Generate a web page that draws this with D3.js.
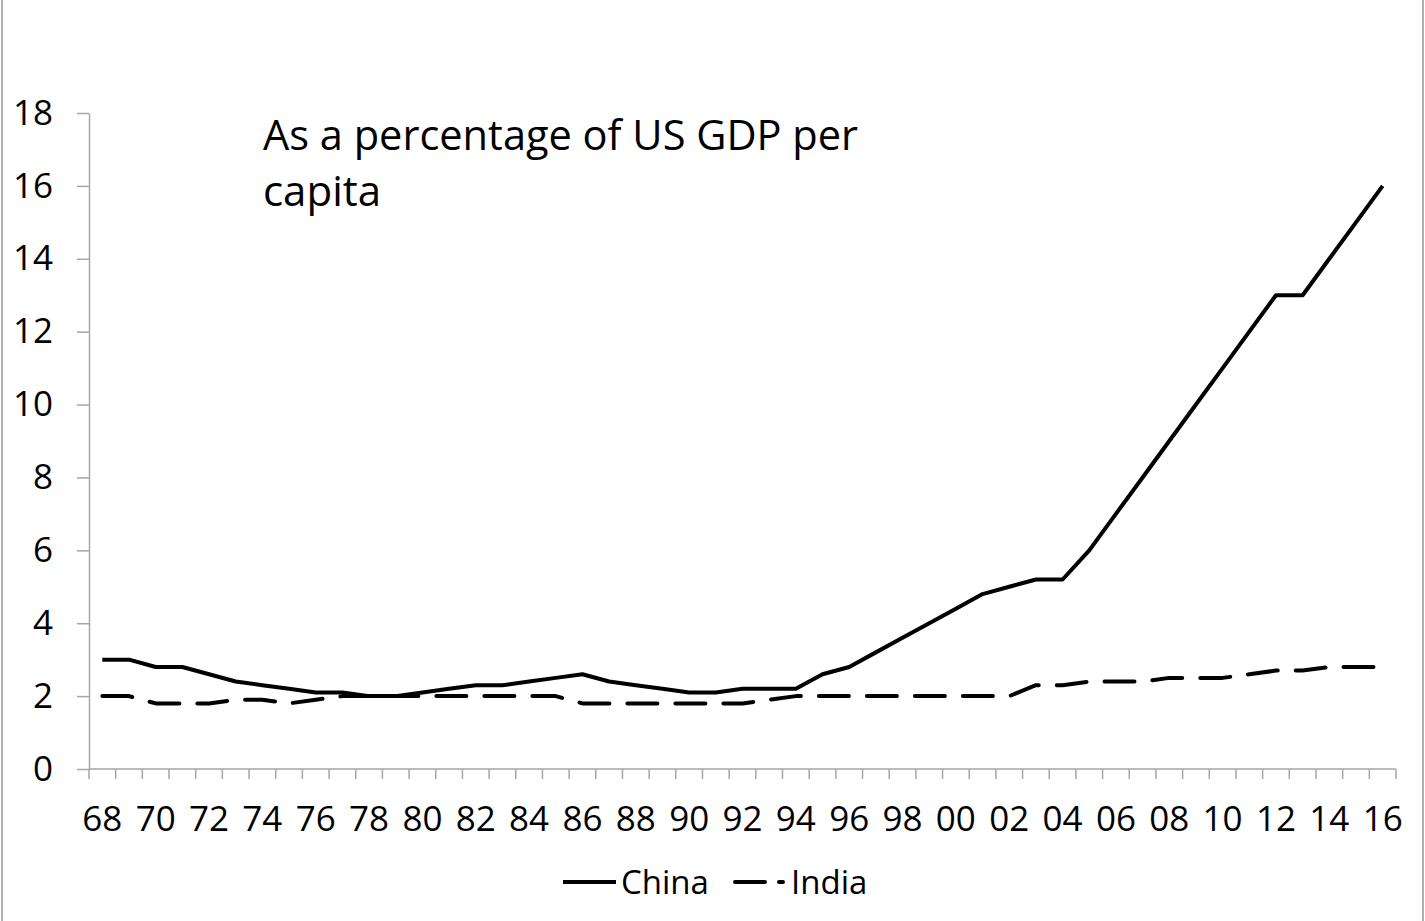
<!DOCTYPE html>
<html>
<head>
<meta charset="utf-8">
<script src="https://cdn.jsdelivr.net/npm/d3@7"></script>
<style>
  html, body { margin: 0; padding: 0; background: #fff; }
  svg { display: block; }
  text { font-family: "Open Sans", "Noto Sans", sans-serif; fill: #000; }
</style>
</head>
<body>
<svg id="chart" width="1425" height="921"></svg>
<script>
// GDP per capita relative to the US (%), 1968–2016
const years = d3.range(1968, 2017);
const china = [
  3.0, 3.0, 2.8, 2.8, 2.6, 2.4, 2.3, 2.2, 2.1, 2.1,
  2.0, 2.0, 2.1, 2.2, 2.3, 2.3, 2.4, 2.5, 2.6, 2.4,
  2.3, 2.2, 2.1, 2.1, 2.2, 2.2, 2.2, 2.6, 2.8, 3.2,
  3.6, 4.0, 4.4, 4.8, 5.0, 5.2, 5.2, 6.0, 7.0, 8.0,
  9.0, 10.0, 11.0, 12.0, 13.0, 13.0, 14.0, 15.0, 16.0
];
const india = [
  2.0, 2.0, 1.8, 1.8, 1.8, 1.9, 1.9, 1.8, 1.9, 2.0,
  2.0, 2.0, 2.0, 2.0, 2.0, 2.0, 2.0, 2.0, 1.8, 1.8,
  1.8, 1.8, 1.8, 1.8, 1.8, 1.9, 2.0, 2.0, 2.0, 2.0,
  2.0, 2.0, 2.0, 2.0, 2.0, 2.3, 2.3, 2.4, 2.4, 2.4,
  2.5, 2.5, 2.5, 2.6, 2.7, 2.7, 2.8, 2.8, 2.8
];
const yTicks = [0, 2, 4, 6, 8, 10, 12, 14, 16, 18];
const seriesNames = ["China", "India"];
const titleLines = ["As a percentage of US GDP per", "capita"];

const svg = d3.select("#chart");
const axisColor = "#a6a6a6";

// outer chart frame
svg.append("rect")
  .attr("x", 2).attr("y", -10)
  .attr("width", 1421).attr("height", 945)
  .attr("fill", "none").attr("stroke", "#b0b0b0").attr("stroke-width", 2);

const x = d3.scaleBand().domain(years).range([89, 1396]).padding(0);
const y = d3.scaleLinear().domain([0, 18]).range([769, 113]);
const cx = d => x(d) + x.bandwidth() / 2;

// y axis
const yAxis = svg.append("g").attr("transform", "translate(89,0)")
  .call(d3.axisLeft(y).tickValues(yTicks).tickSize(12).tickPadding(24).tickSizeOuter(0));
yAxis.select(".domain").attr("stroke", axisColor).attr("stroke-width", 1.5);
yAxis.selectAll(".tick line").attr("stroke", axisColor).attr("stroke-width", 1.5);
yAxis.selectAll(".tick text")
  .style("font-family", "'Open Sans', sans-serif")
  .style("font-size", "35px").attr("fill", "#000");

// x axis: baseline, tick marks at category boundaries, labels every other year
const xAxis = svg.append("g");
xAxis.append("line")
  .attr("x1", 89).attr("x2", 1396).attr("y1", y(0)).attr("y2", y(0))
  .attr("stroke", axisColor).attr("stroke-width", 1.5);
const edges = years.map(d => x(d)).concat([x.range()[1]]);
xAxis.selectAll("line.tk").data(edges).join("line")
  .attr("class", "tk")
  .attr("x1", d => d).attr("x2", d => d)
  .attr("y1", y(0)).attr("y2", y(0) + 10)
  .attr("stroke", axisColor).attr("stroke-width", 1.5);
xAxis.selectAll("text").data(years.filter((d, i) => i % 2 === 0)).join("text")
  .attr("x", d => cx(d)).attr("y", 831)
  .attr("text-anchor", "middle")
  .style("font-size", "35px")
  .text(d => String(d % 100).padStart(2, "0"));

// series lines
const line = d3.line().x(d => cx(d[0])).y(d => y(d[1]));
svg.append("path")
  .datum(years.map((d, i) => [d, india[i]]))
  .attr("d", line).attr("fill", "none")
  .attr("stroke", "#000").attr("stroke-width", 4)
  .attr("stroke-linecap", "round").attr("stroke-linejoin", "round")
  .attr("stroke-dasharray", "30,18");
svg.append("path")
  .datum(years.map((d, i) => [d, china[i]]))
  .attr("d", line).attr("fill", "none")
  .attr("stroke", "#000").attr("stroke-width", 4)
  .attr("stroke-linejoin", "round");

// annotation
const title = svg.append("text").attr("x", 263).attr("y", 150)
  .style("font-size", "42px");
title.append("tspan").attr("x", 263).attr("y", 150)
  .attr("textLength", 595).attr("lengthAdjust", "spacingAndGlyphs")
  .text(titleLines[0]);
title.append("tspan").attr("x", 263).attr("y", 206).text(titleLines[1]);

// legend
const leg = svg.append("g");
leg.append("line").attr("x1", 563).attr("x2", 616).attr("y1", 882).attr("y2", 882)
  .attr("stroke", "#000").attr("stroke-width", 4);
leg.append("text").attr("x", 621).attr("y", 894).style("font-size", "33px").text(seriesNames[0]);
leg.append("line").attr("x1", 735).attr("x2", 783).attr("y1", 882).attr("y2", 882)
  .attr("stroke", "#000").attr("stroke-width", 4)
  .attr("stroke-linecap", "round").attr("stroke-dasharray", "30,14");
leg.append("text").attr("x", 791).attr("y", 894).style("font-size", "33px").text(seriesNames[1]);
</script>
</body>
</html>
